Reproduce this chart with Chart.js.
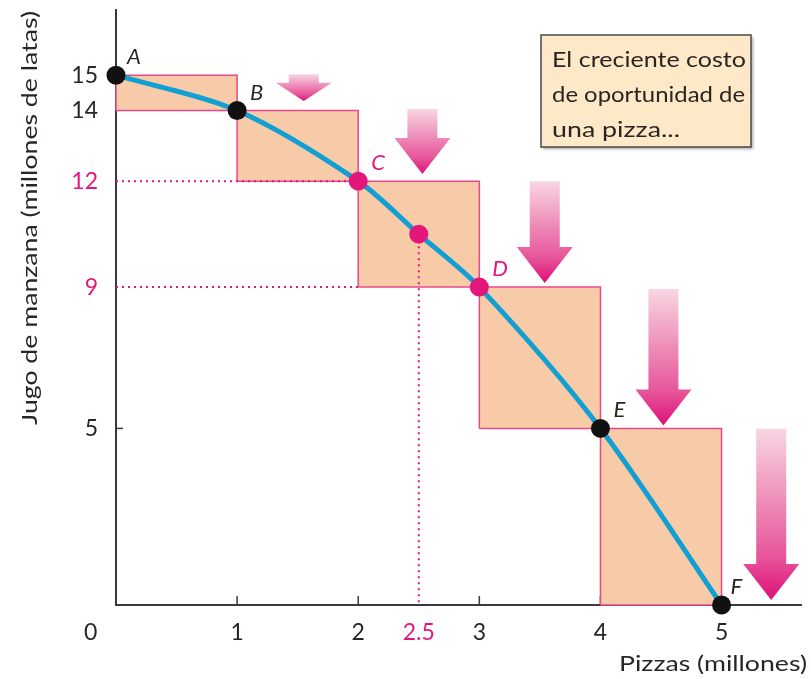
<!DOCTYPE html>
<html>
<head>
<meta charset="utf-8">
<script src="https://cdn.jsdelivr.net/npm/chart.js@4/dist/chart.umd.min.js"></script>
<style>
    html, body { margin: 0; padding: 0; background: #ffffff; }
    #wrap { position: relative; width: 811px; height: 679px; }
</style>
</head>
<body>
<div id="wrap"><canvas id="ppf"></canvas></div>
<script>
// frontera de posibilidades de producción
const ppfX = [0, 1, 2, 2.5, 3, 4, 5];
const ppfY = [15, 14, 12, 10.5, 9, 5, 0];
const pointNames = ["A", "B", "C", "", "D", "E", "F"];

// rectángulos (costo de oportunidad)
const rectX0 = [0, 1, 2, 3, 4];
const rectX1 = [1, 2, 3, 4, 5];
const rectLow = [14, 12, 9, 5, 0];
const rectHigh = [15, 14, 12, 9, 5];

// flechas
const arrowX = [1.55, 2.53, 3.54, 4.52, 5.41];
const arrowTop = [15.03, 14.04, 12.0, 8.95, 5.0];
const arrowTip = [14.27, 12.2, 9.12, 5.08, 0.14];

// ejes
const xTicks = [1, 2, 2.5, 3, 4, 5];
const yTicks = [5, 9, 12, 14, 15];
const xPink = [2.5];
const yPink = [9, 12];

const COLORS = {
    pink: "#e3177a",
    ink: "#2b2522",
    blue: "#129fd3",
    peach: "#f8cba8",
    rectLine: "#e8498a",
    axis: "#3a3a3a"
};
const FONT = "Lato, 'Open Sans', sans-serif";

const pointColors = ppfX.map((x, i) => (i >= 2 && i <= 4) ? COLORS.pink : "#111111");

const datasets = [];

for (let i = 0; i < rectX0.length; i++) {
    datasets.push({
        data: [
            { x: rectX0[i], y: rectLow[i] },
            { x: rectX1[i], y: rectLow[i] },
            { x: rectX1[i], y: rectHigh[i] },
            { x: rectX0[i], y: rectHigh[i] },
            { x: rectX0[i], y: rectLow[i] }
        ],
        order: 10,
        borderColor: COLORS.rectLine,
        borderWidth: 1.5,
        backgroundColor: COLORS.peach,
        fill: "shape",
        pointRadius: 0,
        tension: 0
    });
}

// líneas punteadas
const guides = [
    [{ x: 0, y: ppfY[2] }, { x: ppfX[2], y: ppfY[2] }],
    [{ x: 0, y: ppfY[4] }, { x: ppfX[2], y: ppfY[4] }],
    [{ x: ppfX[3], y: ppfY[3] }, { x: ppfX[3], y: 0 }]
];
guides.forEach(g => {
    datasets.push({
        data: g,
        order: 5,
        borderColor: COLORS.pink,
        borderWidth: 2,
        borderDash: [2, 4],
        pointRadius: 0,
        fill: false
    });
});

datasets.push({
    data: ppfX.map((x, i) => ({ x: x, y: ppfY[i] })),
    order: 2,
    borderColor: COLORS.blue,
    borderWidth: 5,
    borderCapStyle: "round",
    tension: 0.3,
    pointRadius: 0,
    fill: false
});

datasets.push({
    data: ppfX.map((x, i) => ({ x: x, y: ppfY[i] })),
    order: 1,
    showLine: false,
    pointRadius: 9.5,
    pointBorderWidth: 0,
    pointBackgroundColor: pointColors,
    pointBorderColor: pointColors
});

// texto ajustado a un ancho dado
function fitText(ctx, text, x, y, width, size, align) {
    ctx.save();
    ctx.font = size + "px " + FONT;
    const w = ctx.measureText(text).width;
    const k = width / w;
    ctx.translate(x, y);
    ctx.scale(k, 1);
    ctx.textAlign = align;
    ctx.fillText(text, 0, 0);
    ctx.restore();
}

const decorPlugin = {
    id: "decor",
    beforeDatasetsDraw(chart) {
        const ctx = chart.ctx;
        const xs = chart.scales.x;
        const ys = chart.scales.y;
        ctx.save();
        ctx.strokeStyle = COLORS.axis;
        ctx.lineWidth = 1.5;
        for (let v = 1; v <= 5; v++) {
            const px = xs.getPixelForValue(v);
            ctx.beginPath();
            ctx.moveTo(px, ys.bottom);
            ctx.lineTo(px, ys.bottom - 9);
            ctx.stroke();
        }
        const py = ys.getPixelForValue(5);
        ctx.beginPath();
        ctx.moveTo(xs.left, py);
        ctx.lineTo(xs.left + 7, py);
        ctx.stroke();
        ctx.restore();
    },
    afterDatasetsDraw(chart) {
        const ctx = chart.ctx;
        const xs = chart.scales.x;
        const ys = chart.scales.y;
        ctx.save();

        // flechas
        for (let i = 0; i < arrowX.length; i++) {
            const cx = xs.getPixelForValue(arrowX[i]);
            const top = ys.getPixelForValue(arrowTop[i]);
            const tip = ys.getPixelForValue(arrowTip[i]);
            const headH = Math.min(36, (tip - top) * 0.68);
            const shaft = 15;
            const head = 28;
            const grad = ctx.createLinearGradient(0, top, 0, tip);
            grad.addColorStop(0, "#f8d6e2");
            grad.addColorStop(0.75, "#e6559a");
            grad.addColorStop(1, "#df0f78");
            ctx.fillStyle = grad;
            ctx.beginPath();
            ctx.moveTo(cx - shaft, top);
            ctx.lineTo(cx + shaft, top);
            ctx.lineTo(cx + shaft, tip - headH);
            ctx.lineTo(cx + head, tip - headH);
            ctx.lineTo(cx, tip);
            ctx.lineTo(cx - head, tip - headH);
            ctx.lineTo(cx - shaft, tip - headH);
            ctx.closePath();
            ctx.fill();
        }

        // nombres de los puntos
        ctx.font = "italic 22px " + FONT;
        ctx.textBaseline = "middle";
        ctx.textAlign = "left";
        for (let i = 0; i < ppfX.length; i++) {
            if (!pointNames[i]) continue;
            const px = xs.getPixelForValue(ppfX[i]);
            const py = ys.getPixelForValue(ppfY[i]);
            ctx.fillStyle = pointColors[i] === COLORS.pink ? COLORS.pink : COLORS.ink;
            const dx = i === 0 ? 11 : (i === 6 ? 9 : 13);
            ctx.fillText(pointNames[i], px + dx, py - 18);
        }

        // recuadro
        const bx = 541, by = 35, bw = 210, bh = 112;
        ctx.save();
        ctx.shadowColor = "rgba(0,0,0,0.35)";
        ctx.shadowOffsetX = 2;
        ctx.shadowOffsetY = 2;
        ctx.shadowBlur = 3;
        ctx.fillStyle = "#fde8c8";
        ctx.fillRect(bx, by, bw, bh);
        ctx.restore();
        ctx.strokeStyle = "#4a4a4a";
        ctx.lineWidth = 1.5;
        ctx.strokeRect(bx, by, bw, bh);
        ctx.fillStyle = COLORS.ink;
        fitText(ctx, "El creciente costo", bx + 11, by + 25, 194, 22, "left");
        fitText(ctx, "de oportunidad de", bx + 11, by + 60, 193, 22, "left");
        fitText(ctx, "una pizza...", bx + 11, by + 95, 128, 22, "left");

        // títulos de ejes
        fitText(ctx, "Pizzas (millones)", 807, 664, 188, 22, "right");
        ctx.font = "23px " + FONT;
        ctx.textAlign = "left";
        ctx.fillText("0", 84, 633);

        ctx.translate(30, 218);
        ctx.rotate(-Math.PI / 2);
        fitText(ctx, "Jugo de manzana (millones de latas)", 0, 0, 414, 21, "center");
        ctx.restore();
    }
};

new Chart(document.getElementById("ppf"), {
    type: "line",
    data: { datasets: datasets },
    options: {
        responsive: true,
        maintainAspectRatio: false,
        animation: false,
        events: [],
        clip: false,
        layout: { padding: { left: 0, right: 9, top: 8, bottom: 0 } },
        plugins: {
            legend: { display: false },
            tooltip: { enabled: false }
        },
        scales: {
            x: {
                type: "linear",
                min: 0,
                max: 5.66,
                afterBuildTicks: (scale) => { scale.ticks = xTicks.map(v => ({ value: v })); },
                afterFit: (scale) => {
                    scale.height = 74;
                    scale.paddingLeft = 0;
                    scale.paddingRight = 0;
                },
                grid: { display: false, drawTicks: false },
                border: { display: true, color: COLORS.axis, width: 2 },
                ticks: {
                    autoSkip: false,
                    maxRotation: 0,
                    padding: 14,
                    font: { family: FONT, size: 23 },
                    color: (c) => xPink.includes(c.tick.value) ? COLORS.pink : COLORS.ink,
                    callback: (v) => String(v)
                }
            },
            y: {
                type: "linear",
                min: 0,
                max: 16.86,
                afterBuildTicks: (scale) => { scale.ticks = yTicks.map(v => ({ value: v })); },
                afterFit: (scale) => {
                    scale.width = 116;
                    scale.paddingTop = 0;
                    scale.paddingBottom = 0;
                },
                grid: { display: false, drawTicks: false },
                border: { display: true, color: COLORS.axis, width: 2 },
                ticks: {
                    autoSkip: false,
                    padding: 18,
                    font: { family: FONT, size: 23 },
                    color: (c) => yPink.includes(c.tick.value) ? COLORS.pink : COLORS.ink,
                    callback: (v) => String(v)
                }
            }
        }
    },
    plugins: [decorPlugin]
});
</script>
</body>
</html>
